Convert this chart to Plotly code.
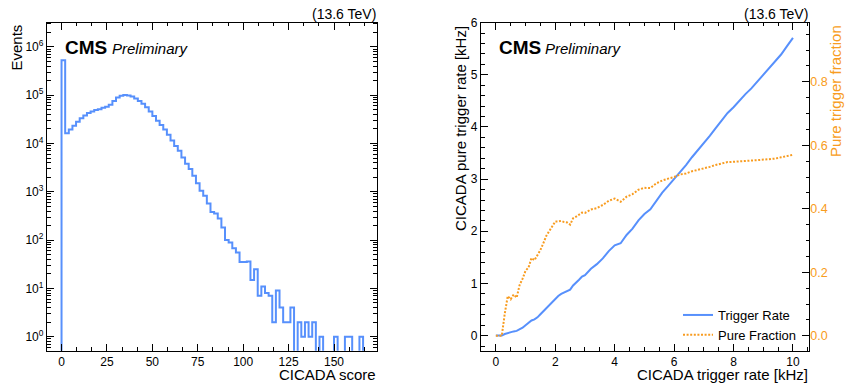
import numpy as np
import plotly.graph_objects as go

# ---- CICADA score histogram (bin width 2) ----
bin_width = 2
score_counts = [
    525000, 16200, 19500, 23400, 28200, 33100, 38000, 42700, 45700, 49000,
    51300, 55000, 57500, 63100, 75900, 89100, 97700, 100500, 98500, 93300,
    85100, 75900, 66100, 56200, 45700, 37200, 29500, 24000, 19500, 15100,
    11500, 8900, 7100, 5130, 3800, 2950, 2140, 1510, 1050, 830,
    575, 380, 355, 280, 182, 100, 89, 68, 55, 35,
    35, 36, 15, 25, 7, 11, 8, 7, 2, 9,
    4, 2, 2, 4, 0, 2, 1, 2, 1, 2,
    0, 1, 0, 0, 0, 1, 0, 0, 1, 1,
    0, 0, 1,
]
log_tick_vals = [1, 10, 100, 1000, 1e4, 1e5, 1e6]
log_tick_text = ["10<sup>0</sup>", "10<sup>1</sup>", "10<sup>2</sup>", "10<sup>3</sup>",
                 "10<sup>4</sup>", "10<sup>5</sup>", "10<sup>6</sup>"]

# ---- CICADA trigger rate vs pure rate / pure fraction ----
trigger_rate_khz = [
    0.0, 0.1, 0.2, 0.3, 0.4, 0.5, 0.6, 0.7, 0.8, 0.9,
    1.0, 1.1, 1.2, 1.3, 1.4, 1.5, 1.6, 1.7, 1.8, 1.9,
    2.0, 2.1, 2.2, 2.3, 2.4, 2.5, 2.6, 2.7, 2.8, 2.9,
    3.0, 3.2, 3.4, 3.6, 3.8, 4.0, 4.2, 4.4, 4.6, 4.8,
    5.0, 5.2, 5.4, 5.6, 5.8, 6.0, 6.2, 6.4, 6.6, 6.8,
    7.0, 7.2, 7.4, 7.6, 7.8, 8.0, 8.2, 8.4, 8.6, 8.8,
    9.0, 9.2, 9.4, 9.6, 9.8, 10.0,
]
pure_rate_khz = [
    0.00, 0.00, 0.00, 0.03, 0.05, 0.06, 0.08, 0.09, 0.12, 0.15,
    0.20, 0.24, 0.29, 0.31, 0.35, 0.41, 0.47, 0.54, 0.60, 0.66,
    0.72, 0.76, 0.80, 0.83, 0.86, 0.88, 0.96, 1.01, 1.07, 1.13,
    1.16, 1.28, 1.37, 1.48, 1.62, 1.73, 1.77, 1.93, 2.05, 2.21,
    2.33, 2.42, 2.59, 2.74, 2.87, 3.00, 3.15, 3.27, 3.42, 3.55,
    3.70, 3.83, 3.98, 4.12, 4.27, 4.38, 4.51, 4.63, 4.74, 4.87,
    4.99, 5.11, 5.25, 5.39, 5.55, 5.71,
]
pure_fraction = [
    0.000, 0.000, 0.000, 0.070, 0.125, 0.115, 0.130, 0.120, 0.160, 0.180,
    0.205, 0.215, 0.245, 0.238, 0.252, 0.270, 0.292, 0.315, 0.330, 0.345,
    0.360, 0.360, 0.362, 0.358, 0.357, 0.350, 0.370, 0.375, 0.382, 0.388,
    0.387, 0.398, 0.402, 0.412, 0.425, 0.432, 0.422, 0.438, 0.446, 0.460,
    0.466, 0.465, 0.480, 0.489, 0.495, 0.500, 0.508, 0.511, 0.518, 0.522,
    0.528, 0.532, 0.538, 0.542, 0.547, 0.548, 0.550, 0.551, 0.552, 0.553,
    0.554, 0.556, 0.558, 0.562, 0.566, 0.570,
]

BLUE = "#5790fc"
ORANGE = "#f89c20"
FONT = "Liberation Sans"
W, H = 847, 383


def px(x):
    return x / W


def py(y):
    return 1 - y / H


# step outline of the histogram; empty bins fall to below the axis floor
edges = np.arange(len(score_counts) + 1) * bin_width
floor = 1e-2
counts_plot = [c if c > 0 else floor for c in score_counts]
step_x = [edges[0]] + list(edges[:-1]) + [edges[-1]]
step_y = [floor] + counts_plot + [floor]

fig = go.Figure()
fig.add_trace(go.Scatter(
    x=step_x, y=step_y, mode="lines", line=dict(color=BLUE, width=2, shape="hv"),
    showlegend=False, xaxis="x", yaxis="y", hoverinfo="skip",
))
fig.add_trace(go.Scatter(
    x=trigger_rate_khz, y=pure_rate_khz, mode="lines", name="Trigger Rate",
    line=dict(color=BLUE, width=2), xaxis="x2", yaxis="y2",
))
fig.add_trace(go.Scatter(
    x=trigger_rate_khz, y=pure_fraction, mode="lines", name="Pure Fraction",
    line=dict(color=ORANGE, width=2, dash="2px,1.6px"), xaxis="x2", yaxis="y3",
))

left_dom = [px(47), px(376.7)]
right_dom = [px(481), px(809.3)]
y_dom = [py(350.7), py(22.7)]

frame = dict(showline=True, linecolor="black", linewidth=1.3, showgrid=False,
             zeroline=False, ticks="inside", tickcolor="black", ticklen=7,
             tickwidth=1, automargin=False,
             tickfont=dict(family=FONT, size=12, color="black"))

minor_log = [m * 10.0 ** k for k in range(-1, 7) for m in range(2, 10)]

fig.update_layout(
    width=W, height=H,
    margin=dict(l=0, r=0, t=0, b=0),
    paper_bgcolor="white", plot_bgcolor="white",
    font=dict(family=FONT, color="black"),
    xaxis=dict(**frame, domain=left_dom, anchor="y", range=[-8, 173.5],
               tickmode="linear", tick0=0, dtick=25, mirror="ticks",
               minor=dict(ticks="inside", ticklen=3.5, tickcolor="black",
                          tick0=0, dtick=25 / 3, showgrid=False)),
    yaxis=dict(**frame, domain=y_dom, anchor="x", type="log", range=[-0.29, 6.5],
               tickmode="array", tickvals=log_tick_vals, ticktext=log_tick_text,
               mirror="ticks",
               minor=dict(ticks="inside", ticklen=3.5, tickcolor="black",
                          tickmode="array", tickvals=minor_log, showgrid=False)),
    xaxis2=dict(**frame, domain=right_dom, anchor="y2", range=[-0.5, 10.55],
                tickmode="linear", tick0=0, dtick=2, mirror="ticks",
                minor=dict(ticks="inside", ticklen=3.5, tickcolor="black",
                           tick0=0, dtick=0.5, showgrid=False)),
    yaxis2=dict(**frame, domain=y_dom, anchor="x2", range=[-0.29, 6.0],
                tickmode="linear", tick0=0, dtick=1, mirror=True,
                minor=dict(ticks="inside", ticklen=3.5, tickcolor="black",
                           tick0=0, dtick=0.2, showgrid=False)),
    yaxis3=dict(showgrid=False, zeroline=False, showline=False,
                overlaying="y2", side="right", anchor="x2",
                range=[-0.047, 0.986], tickmode="linear", tick0=0, dtick=0.2,
                tickformat=".1f", ticks="inside", tickcolor="black", ticklen=7,
                automargin=False,
                tickfont=dict(family=FONT, size=12.5, color=ORANGE),
                minor=dict(ticks="inside", ticklen=3.5, tickcolor="black",
                           tick0=0, dtick=0.05, showgrid=False)),
    legend=dict(x=px(678), y=py(300), xanchor="left", yanchor="top",
                bgcolor="rgba(0,0,0,0)", borderwidth=0, itemwidth=30,
                font=dict(family=FONT, size=13, color="black")),
)

ann = []


def label(text, x, y, size, xanchor="left", yanchor="middle", angle=0, color="black"):
    ann.append(dict(text=text, x=px(x), y=py(y), xref="paper", yref="paper",
                    xanchor=xanchor, yanchor=yanchor, textangle=angle, borderpad=0,
                    showarrow=False, font=dict(family=FONT, size=size, color=color)))


# energy labels above each panel
label("(13.6 TeV)", 376.7, 14, 14, xanchor="right")
label("(13.6 TeV)", 809.3, 14, 14, xanchor="right")
# experiment labels
label("<b>CMS</b>", 64, 47, 19)
label("<i>Preliminary</i>", 111, 49, 15)
label("<b>CMS</b>", 498, 47, 19)
label("<i>Preliminary</i>", 544, 49, 15)
# axis titles, aligned to the panel ends
label("CICADA score", 376.7, 374.8, 15, xanchor="right")
label("CICADA trigger rate [kHz]", 809.3, 374.8, 15, xanchor="right")
# rotated y titles, placed by their centres so their tops sit at the frame top
label("Events", 16, 47.5, 15, xanchor="center", angle=-90)
label("CICADA pure trigger rate [kHz]", 460, 129, 15, xanchor="center", angle=-90)
label("Pure trigger fraction", 836, 91, 15, xanchor="center", angle=-90, color=ORANGE)

fig.update_layout(annotations=ann)
fig.write_html("out.html")
